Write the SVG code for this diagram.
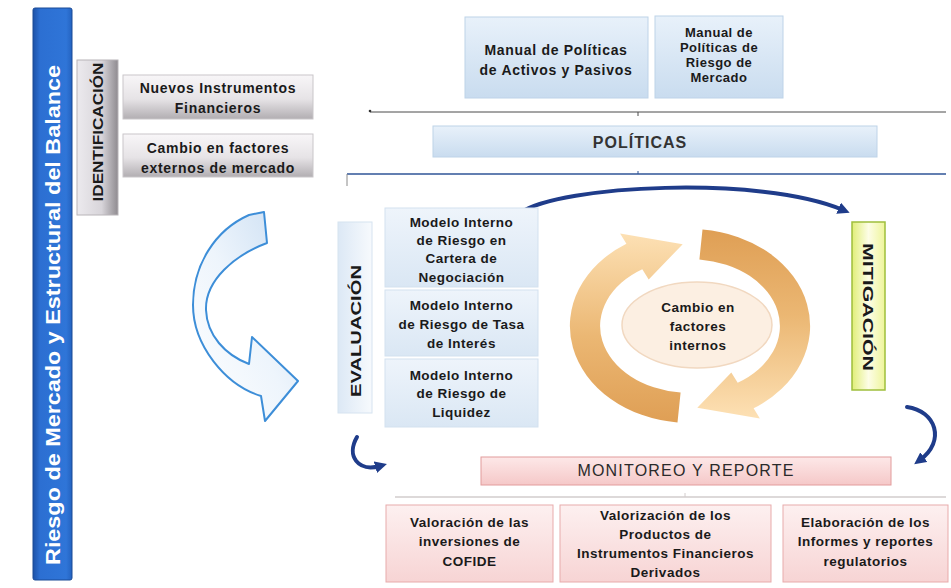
<svg xmlns="http://www.w3.org/2000/svg" width="951" height="588" viewBox="0 0 951 588">
<defs>
  <linearGradient id="gBar" x1="0" y1="0" x2="1" y2="0">
    <stop offset="0" stop-color="#1d52a8"/><stop offset="0.18" stop-color="#2c6fd2"/><stop offset="0.85" stop-color="#2f75d8"/><stop offset="1" stop-color="#2463c0"/>
  </linearGradient>
  <linearGradient id="gIdent" x1="0" y1="0" x2="1" y2="0">
    <stop offset="0" stop-color="#eceaee"/><stop offset="0.6" stop-color="#d8d5da"/><stop offset="1" stop-color="#8f8b90"/>
  </linearGradient>
  <linearGradient id="gGray" x1="0" y1="0" x2="0" y2="1">
    <stop offset="0" stop-color="#f8f6f8"/><stop offset="0.55" stop-color="#e6e3e6"/><stop offset="1" stop-color="#b2aeb2"/>
  </linearGradient>
  <linearGradient id="gBlue" x1="0" y1="0" x2="0" y2="1">
    <stop offset="0" stop-color="#e8f1fa"/><stop offset="1" stop-color="#c9dcef"/>
  </linearGradient>
  <linearGradient id="gBlueL" x1="0" y1="0" x2="0" y2="1">
    <stop offset="0" stop-color="#eef4fb"/><stop offset="1" stop-color="#dae7f4"/>
  </linearGradient>
  <linearGradient id="gEval" x1="0" y1="0" x2="1" y2="0">
    <stop offset="0" stop-color="#dce8f5"/><stop offset="1" stop-color="#f7fafd"/>
  </linearGradient>
  <linearGradient id="gPink" x1="0" y1="0" x2="0" y2="1">
    <stop offset="0" stop-color="#fdf0f0"/><stop offset="1" stop-color="#f7d4d4"/>
  </linearGradient>
  <linearGradient id="gMon" x1="0" y1="0" x2="0" y2="1">
    <stop offset="0" stop-color="#fde8e8"/><stop offset="1" stop-color="#f5c8c8"/>
  </linearGradient>
  <linearGradient id="gMit" x1="0" y1="0" x2="1" y2="0">
    <stop offset="0" stop-color="#e0ee78"/><stop offset="0.5" stop-color="#fdfde6"/><stop offset="1" stop-color="#eef59a"/>
  </linearGradient>
  <linearGradient id="gArrA" gradientUnits="userSpaceOnUse" x1="0" y1="230" x2="0" y2="420">
    <stop offset="0" stop-color="#df9f55"/><stop offset="0.45" stop-color="#ebb773"/><stop offset="1" stop-color="#fde1b5"/>
  </linearGradient>
  <linearGradient id="gArrB" gradientUnits="userSpaceOnUse" x1="0" y1="422" x2="0" y2="232">
    <stop offset="0" stop-color="#df9f55"/><stop offset="0.45" stop-color="#ebb773"/><stop offset="1" stop-color="#fde1b5"/>
  </linearGradient>
  <linearGradient id="gBig" x1="1" y1="0" x2="0" y2="1">
    <stop offset="0" stop-color="#c9ddf2"/><stop offset="0.5" stop-color="#eef5fc"/><stop offset="1" stop-color="#ffffff"/>
  </linearGradient>
  <marker id="ah" viewBox="0 0 10 10" refX="4" refY="5" markerWidth="3" markerHeight="3" orient="auto">
    <path d="M0,0 L10,5 L0,10 z" fill="#1f3c8a"/>
  </marker>
</defs>
<style>
  .t{font-family:"Liberation Sans",Arial,sans-serif;font-weight:bold;fill:#1a1a1a;text-anchor:middle}
  .s14{font-size:14px;letter-spacing:0.7px}
  .s13{font-size:13.5px;letter-spacing:0.5px}
  .s12{font-size:13px;letter-spacing:0.5px}
  .v{font-size:15px}
  .blueBox{fill:url(#gBlue);stroke:#bed3e8;stroke-width:1}
  .modBox{fill:url(#gBlueL);stroke:#d3e1ef;stroke-width:1}
  .grayBox{fill:url(#gGray);stroke:#c9c6c9;stroke-width:1}
  .pinkBox{fill:url(#gPink);stroke:#e8abab;stroke-width:1}
  .blueArrow{fill:none;stroke:#1f3c8a;stroke-width:4;stroke-linecap:round}
</style>
<rect width="951" height="588" fill="#ffffff"/>

<g id="connectors">
  <line x1="370" y1="112" x2="946" y2="112" stroke="#4a4a4a" stroke-width="1"/>
  <circle cx="370" cy="111" r="1.3" fill="#333"/>
  <line x1="638" y1="112" x2="638" y2="116" stroke="#4a4a4a" stroke-width="1"/>
  <line x1="347" y1="174" x2="946" y2="174" stroke="#2f5597" stroke-width="1.5"/>
  <line x1="347" y1="174" x2="347" y2="186" stroke="#8a8a8a" stroke-width="1"/>
  <line x1="638" y1="171" x2="638" y2="174" stroke="#2f5597" stroke-width="1"/>
  <line x1="395" y1="497" x2="946" y2="497" stroke="#d2cccc" stroke-width="1.5"/>
  <line x1="685" y1="493" x2="685" y2="497" stroke="#d2cccc" stroke-width="1"/>
  <path class="blueArrow" d="M520,213 C560,185 760,175 843,210" marker-end="url(#ah)"/>
  <path class="blueArrow" d="M907,407 C936,411 946,441 920,460" marker-end="url(#ah)"/>
  <path class="blueArrow" d="M357,437 C346,456 358,472 380,466" marker-end="url(#ah)"/>
  <path d="M249,215 L264,212 L267,243 C235,255 205,280 206,310 C207,335 225,355 249,364 L252,337 L298,381 L265,421 L261,396 C225,385 193,345 193,305 C193,265 215,230 249,215 Z" fill="url(#gBig)" stroke="#3d8ed8" stroke-width="2" stroke-linejoin="round"/>
</g>

<g id="title">
  <rect x="33" y="8" width="39" height="572" rx="2" fill="url(#gBar)" stroke="#1a4a96" stroke-width="1"/>
  <text class="t" transform="translate(59.5,315) rotate(-90)" style="font-size:21px;fill:#ffffff" textLength="500" lengthAdjust="spacingAndGlyphs">Riesgo de Mercado y Estructural del Balance</text>
</g>

<g id="identificacion">
  <rect x="77" y="60" width="41" height="155" fill="url(#gIdent)" stroke="#b8b4b8" stroke-width="1"/>
  <text class="t v" transform="translate(103,132) rotate(-90)" textLength="139" lengthAdjust="spacingAndGlyphs">IDENTIFICACIÓN</text>
</g>

<g id="nuevos">
  <rect class="grayBox" x="123" y="75" width="190" height="44"/>
  <text class="t s14" x="218" y="93">Nuevos Instrumentos</text>
  <text class="t s14" x="218" y="113">Financieros</text>
</g>

<g id="cambio-externos">
  <rect class="grayBox" x="123" y="134" width="190" height="43"/>
  <text class="t s14" x="218" y="153">Cambio en factores</text>
  <text class="t s14" x="218" y="173">externos de mercado</text>
</g>

<g id="manual-activos">
  <rect class="blueBox" x="465" y="17" width="183" height="81"/>
  <text class="t s14" x="556" y="55">Manual de Políticas</text>
  <text class="t s14" x="556" y="75">de Activos y Pasivos</text>
</g>

<g id="manual-mercado">
  <rect class="blueBox" x="655" y="16" width="128" height="82"/>
  <text class="t s12" x="719" y="37">Manual de</text>
  <text class="t s12" x="719" y="52">Políticas de</text>
  <text class="t s12" x="719" y="67">Riesgo de</text>
  <text class="t s12" x="719" y="82">Mercado</text>
</g>

<g id="politicas">
  <rect class="blueBox" x="433" y="126" width="444" height="31"/>
  <text class="t" x="640" y="148" style="font-size:16px;letter-spacing:1px;fill:#333">POLÍTICAS</text>
</g>

<g id="evaluacion">
  <rect x="338" y="222" width="34" height="191" fill="url(#gEval)" stroke="#d6e3f0" stroke-width="1"/>
  <text class="t v" transform="translate(360.5,331) rotate(-90)" textLength="132" lengthAdjust="spacingAndGlyphs">EVALUACIÓN</text>
</g>

<g id="modelo-negociacion">
  <rect class="modBox" x="385" y="208" width="153" height="79"/>
  <text class="t s13" x="461.5" y="227">Modelo Interno</text>
  <text class="t s13" x="461.5" y="245">de Riesgo en</text>
  <text class="t s13" x="461.5" y="263">Cartera de</text>
  <text class="t s13" x="461.5" y="282">Negociación</text>
</g>

<g id="modelo-tasa">
  <rect class="modBox" x="385" y="290" width="153" height="66"/>
  <text class="t s13" x="461.5" y="310">Modelo Interno</text>
  <text class="t s13" x="461.5" y="329">de Riesgo de Tasa</text>
  <text class="t s13" x="461.5" y="348">de Interés</text>
</g>

<g id="modelo-liquidez">
  <rect class="modBox" x="385" y="359" width="153" height="68"/>
  <text class="t s13" x="461.5" y="380">Modelo Interno</text>
  <text class="t s13" x="461.5" y="398">de Riesgo de</text>
  <text class="t s13" x="461.5" y="417">Liquidez</text>
</g>

<g id="ciclo">
  <path d="M702.5,229.5 A120,97 0 0 1 753.6,408.3 L759.9,418.4 L697.3,407.8 L731.3,372.6 L737.7,382.8 A90,67 0 0 0 699.4,259.4 Z" fill="url(#gArrA)"/>
  <path d="M677.5,422.5 A120,97 0 0 1 626.4,243.7 L620.1,233.6 L682.7,244.2 L648.7,279.4 L642.3,269.2 A90,67 0 0 0 680.6,392.6 Z" fill="url(#gArrB)"/>
</g>

<g id="factores-internos">
  <ellipse cx="697" cy="325" rx="75" ry="43" fill="#fcefe2" stroke="#f1d8c0" stroke-width="1.5"/>
  <text class="t s13" x="698" y="312">Cambio en</text>
  <text class="t s13" x="698" y="331">factores</text>
  <text class="t s13" x="698" y="350">internos</text>
</g>

<g id="mitigacion">
  <rect x="852" y="222" width="33" height="168" fill="url(#gMit)" stroke="#9fbf3c" stroke-width="1.5"/>
  <text class="t v" transform="translate(863,307) rotate(90)" textLength="128" lengthAdjust="spacingAndGlyphs">MITIGACIÓN</text>
</g>

<g id="monitoreo">
  <rect x="481" y="457" width="410" height="28" fill="url(#gMon)" stroke="#e29c9c" stroke-width="1"/>
  <text class="t" x="686" y="476" style="font-size:16px;font-weight:normal;letter-spacing:1.2px;fill:#2a2a2a">MONITOREO Y REPORTE</text>
</g>

<g id="valoracion-cofide">
  <rect class="pinkBox" x="386" y="505" width="167" height="77"/>
  <text class="t s13" x="469.5" y="527">Valoración de las</text>
  <text class="t s13" x="469.5" y="546">inversiones de</text>
  <text class="t s13" x="469.5" y="566">COFIDE</text>
</g>

<g id="valorizacion-derivados">
  <rect class="pinkBox" x="560" y="505" width="211" height="77"/>
  <text class="t s13" x="665.5" y="520">Valorización de los</text>
  <text class="t s13" x="665.5" y="539">Productos de</text>
  <text class="t s13" x="665.5" y="558">Instrumentos Financieros</text>
  <text class="t s13" x="665.5" y="577">Derivados</text>
</g>

<g id="informes">
  <rect class="pinkBox" x="783" y="505" width="165" height="77"/>
  <text class="t s13" x="865.5" y="527">Elaboración de los</text>
  <text class="t s13" x="865.5" y="546">Informes y reportes</text>
  <text class="t s13" x="865.5" y="566">regulatorios</text>
</g>
</svg>
